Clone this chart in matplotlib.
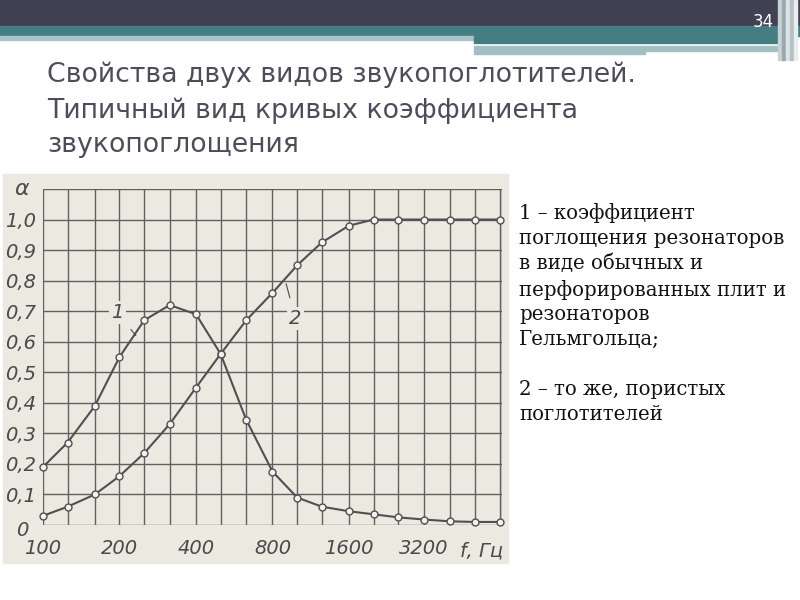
import matplotlib
matplotlib.use('Agg')
import matplotlib.pyplot as plt
import matplotlib.transforms as mtransforms
from matplotlib.patches import Rectangle
import numpy as np

# данные
freqs = [100, 125, 160, 200, 250, 315, 400, 500, 630, 800, 1000,
         1250, 1600, 2000, 2500, 3150, 4000, 5000, 6300]
curve1 = [0.19, 0.27, 0.39, 0.55, 0.67, 0.72, 0.69, 0.56, 0.345, 0.175, 0.09,
          0.06, 0.045, 0.035, 0.025, 0.018, 0.012, 0.01, 0.01]
curve2 = [0.03, 0.06, 0.10, 0.16, 0.235, 0.33, 0.45, 0.56, 0.67, 0.76, 0.85,
          0.925, 0.98, 1.0, 1.0, 1.0, 1.0, 1.0, 1.0]
x_ticks = [100, 200, 400, 800, 1600, 3150]
x_labels = ['100', '200', '400', '800', '1600', '3200']
y_ticks = [0, 0.1, 0.2, 0.3, 0.4, 0.5, 0.6, 0.7, 0.8, 0.9, 1.0]
y_labels = ['0', '0,1', '0,2', '0,3', '0,4', '0,5', '0,6', '0,7', '0,8', '0,9', '1,0']

title = 'Свойства двух видов звукопоглотителей.\nТипичный вид кривых коэффициента\nзвукопоглощения'
note = ('1 – коэффициент\nпоглощения резонаторов\nв виде обычных и\n'
        'перфорированных плит и\nрезонаторов\nГельмгольца;\n\n'
        '2 – то же, пористых\nпоглотителей')

W, H = 800, 600
fig = plt.figure(figsize=(8, 6), dpi=100)
fig.patch.set_facecolor('white')

# фон слайда в пикселях
bg = fig.add_axes([0, 0, 1, 1], zorder=0)
bg.set_xlim(0, W)
bg.set_ylim(H, 0)
bg.axis('off')

bg.add_patch(Rectangle((0, 0), W, 27, color='#414153'))
bg.add_patch(Rectangle((0, 26), W, 10, color='#447e83'))
bg.add_patch(Rectangle((0, 36), 474, 4, color='#a9c4c6'))
bg.add_patch(Rectangle((474, 36), 311, 7, color='#447e83'))
bg.add_patch(Rectangle((474, 46), 171, 8, color='#a3bfc2'))
bg.add_patch(Rectangle((645, 46), 140, 5, color='#a3bfc2'))
for i, c in enumerate(['#c9d3d6', '#9aa9ad', '#dde3e5', '#b5c1c4', '#e9eded']):
    bg.add_patch(Rectangle((778 + i * 4, 0), 3, 60, color=c))
bg.text(763, 22, '34', color='white', fontsize=12, ha='center', va='center',
        family='Liberation Sans Narrow')

bg.text(47, 62, title, color='#4d4d59', fontsize=19.3, family='DejaVu Sans',
        va='top', ha='left', linespacing=1.42)

bg.text(519, 203, note, color='#111111', fontsize=14.2, family='DejaVu Serif',
        va='top', ha='left', linespacing=1.39)

# скан графика
bg.add_patch(Rectangle((3, 174), 505, 389, color='#ece9e1'))

# область графика
ax = fig.add_axes([43 / W, 1 - 525 / H, 459 / W, 336 / H], zorder=1)
ax.patch.set_alpha(0)
ax.set_xscale('log', base=2)
ax.set_xlim(100, 6400)
ax.set_ylim(0, 1.1)

gc = '#606060'
for f in freqs + [6400]:
    ax.axvline(f, color=gc, lw=1.0, zorder=1)
for v in np.arange(0, 1.15, 0.1):
    ax.axhline(v, color=gc, lw=1.0, zorder=1)
for s in ax.spines.values():
    s.set_visible(False)

ax.plot(freqs, curve1, color='#505050', lw=1.5, marker='o', ms=5,
        mfc='#f4f2ec', mec='#505050', mew=1.0, zorder=3, clip_on=False)
ax.plot(freqs, curve2, color='#505050', lw=1.5, marker='o', ms=5,
        mfc='#f4f2ec', mec='#505050', mew=1.0, zorder=3, clip_on=False)

lab = dict(color='#4a4a4a', fontsize=14, style='italic', ha='center', va='center',
           bbox=dict(facecolor='#ece9e1', edgecolor='none', pad=1.5), zorder=4)
ax.annotate('1', xy=(232, 0.62), xytext=(196, 0.695),
            arrowprops=dict(arrowstyle='-', color='#4a4a4a', lw=0.8,
                            shrinkA=6, shrinkB=0), **lab)
ax.annotate('2', xy=(905, 0.79), xytext=(985, 0.675),
            arrowprops=dict(arrowstyle='-', color='#4a4a4a', lw=0.8,
                            shrinkA=7, shrinkB=0), **lab)

ax.set_xticks(x_ticks)
ax.set_xticklabels(x_labels)
ax.set_yticks(y_ticks)
ax.set_yticklabels(y_labels)
ax.minorticks_off()
ax.tick_params(length=0, labelsize=14, labelcolor='#4a4a4a')
ax.tick_params(axis='x', pad=10)
ax.tick_params(axis='y', pad=5)
for t in ax.get_xticklabels() + ax.get_yticklabels():
    t.set_fontstyle('italic')
    t.set_family('Liberation Sans Narrow')
# "0" стоит левее и чуть ниже остальных подписей
zero = ax.get_yticklabels()[0]
zero.set_transform(zero.get_transform() +
                   mtransforms.ScaledTranslation(-0.08, -0.03, fig.dpi_scale_trans))

ax.text(5300, -0.085, 'f, Гц', fontsize=14, style='italic', color='#4a4a4a',
        family='Liberation Sans Narrow', ha='center', va='center')
ax.text(-0.046, 1.1, 'α', transform=ax.get_yaxis_transform(), fontsize=16,
        style='italic', color='#4a4a4a', ha='center', va='center')

fig.savefig('out.png', dpi=100)
